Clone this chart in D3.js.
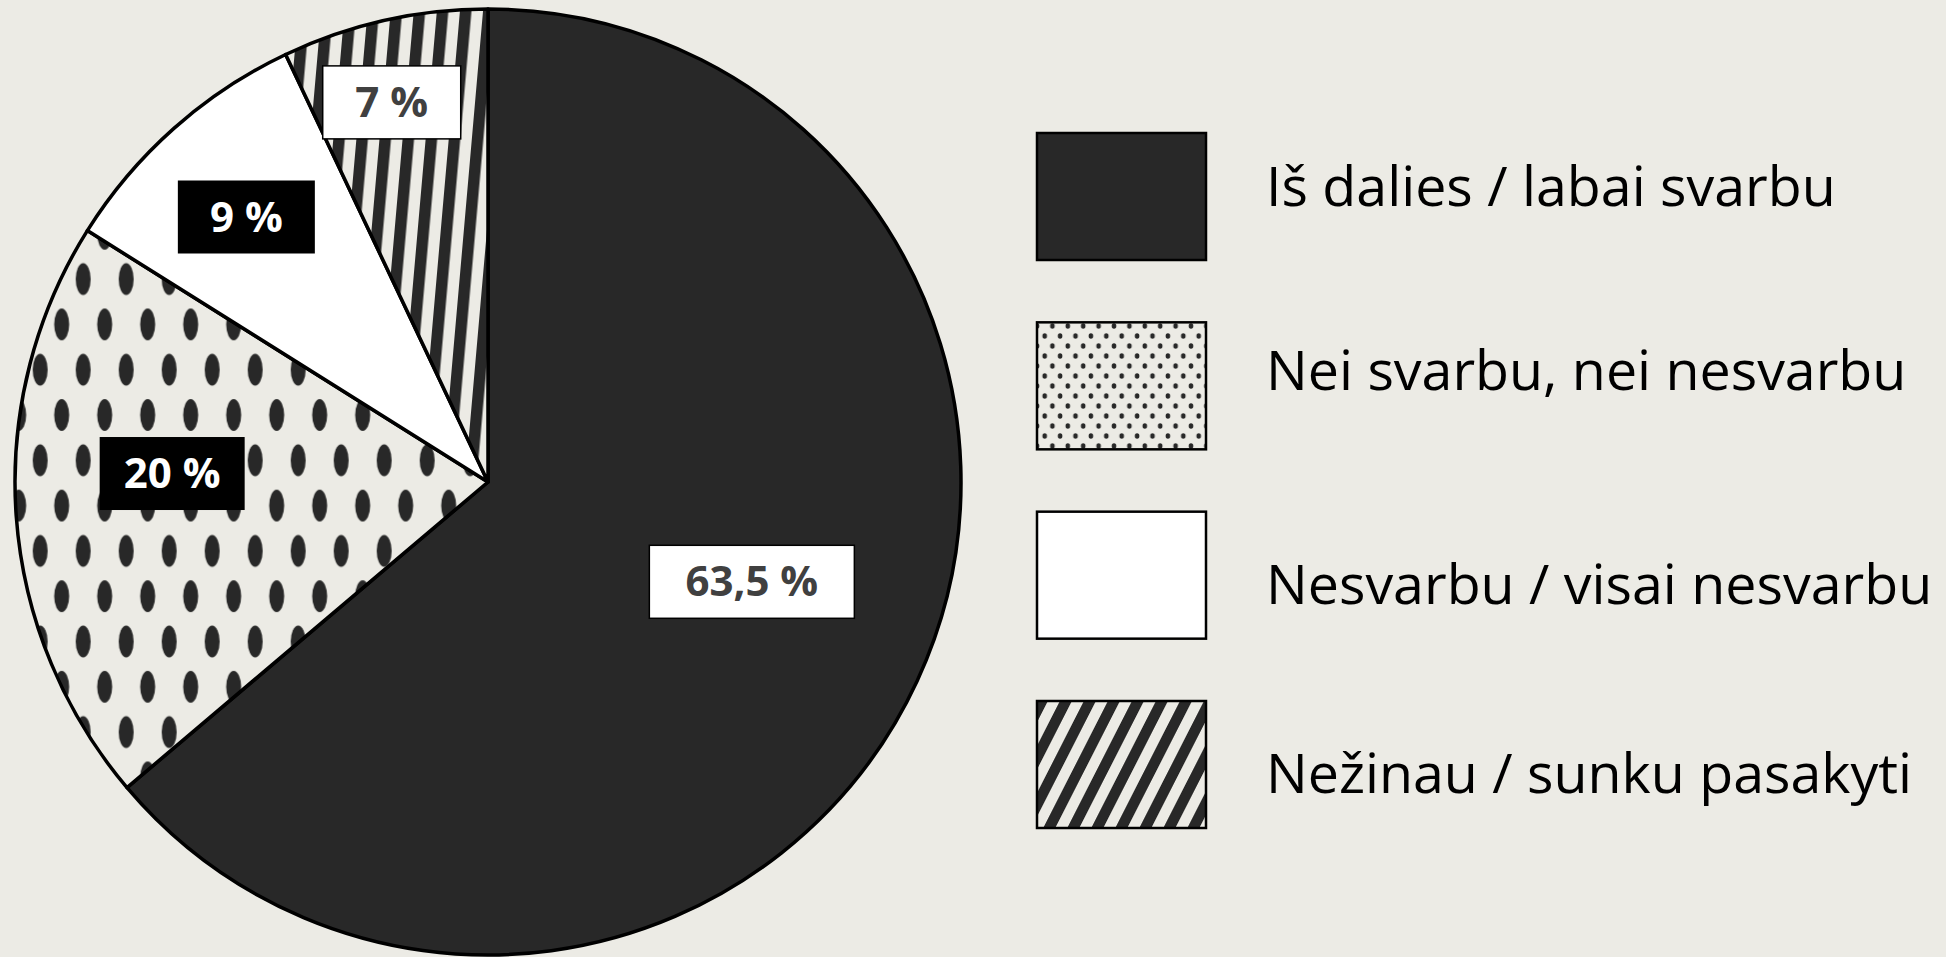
<!DOCTYPE html>
<html>
<head>
<meta charset="utf-8">
<script src="https://cdn.jsdelivr.net/npm/d3@7/dist/d3.min.js"></script>
<style>
  body { margin: 0; background: #ECEBE5; }
  svg { display: block; }
</style>
</head>
<body>
<svg id="chart"></svg>
<script>
// data
const categories = ["Iš dalies / labai svarbu", "Nei svarbu, nei nesvarbu", "Nesvarbu / visai nesvarbu", "Nežinau / sunku pasakyti"];
const values = [63.5, 20, 9, 7];
const valueLabels = ["63,5 %", "20 %", "9 %", "7 %"];

// layout
const width = 1946, height = 957;
const cx = 488, cy = 482, radius = 473;
const dark = "#282828", bg = "#ECEBE5";
const labelRadius = [0.596, 0.668, 0.759, 0.829];
const labelTurn = [-4.25, 5.7, -0.7, -1.55];   // degrees off the slice middle
const labelBoxWidth = [205, 145, 137, 138];
const labelDark = [false, true, true, false];
const legendShift = [-10, -16, 9, 9];

const svg = d3.select("#chart").attr("width", width).attr("height", height);
svg.append("rect").attr("width", width).attr("height", height).attr("fill", bg);

const defs = svg.append("defs");

// dot patterns (big one for the pie, small one for legend)
function dots(id, w, h, rx, ry, x0, y0) {
  const p = defs.append("pattern").attr("id", id)
    .attr("patternUnits", "userSpaceOnUse")
    .attr("x", x0).attr("y", y0).attr("width", w).attr("height", h);
  p.append("rect").attr("width", w).attr("height", h).attr("fill", bg);
  [[0, 0], [w, 0], [0, h], [w, h], [w / 2, h / 2]].forEach(([x, y]) => {
    p.append("ellipse").attr("cx", x).attr("cy", y).attr("rx", rx).attr("ry", ry).attr("fill", dark);
  });
}
dots("dotsPie", 43, 90.6, 7.5, 16, 46.7, 386);
dots("dotsLegend", 15.4, 20, 2.3, 2.8, 1037, 326);

// stripe patterns
function stripes(id, period, angle) {
  const p = defs.append("pattern").attr("id", id)
    .attr("patternUnits", "userSpaceOnUse")
    .attr("width", period).attr("height", 10)
    .attr("patternTransform", `rotate(${angle})`);
  p.append("rect").attr("width", period).attr("height", 10).attr("fill", bg);
  p.append("rect").attr("width", period / 2).attr("height", 10).attr("fill", dark);
}
stripes("stripesPie", 23, 5);
stripes("stripesLegend", 21.4, 27);

const pieFills = [dark, "url(#dotsPie)", "#FFFFFF", "url(#stripesPie)"];
const legendFills = [dark, "url(#dotsLegend)", "#FFFFFF", "url(#stripesLegend)"];

// pie
const pie = d3.pie().sort(null).value(d => d);
const arcs = pie(values);
const arc = d3.arc().innerRadius(0).outerRadius(radius);

const g = svg.append("g").attr("transform", `translate(${cx},${cy})`);

g.selectAll("path.slice")
  .data(arcs)
  .enter()
  .append("path")
  .attr("class", "slice")
  .attr("d", arc)
  .attr("fill", (d, i) => pieFills[i])
  .attr("stroke", "#000")
  .attr("stroke-width", 3.5)
  .attr("stroke-linejoin", "round");

// value labels in boxes
arcs.forEach((d, i) => {
  const r = radius * labelRadius[i];
  const turn = labelTurn[i] * Math.PI / 180;
  const [x, y] = d3.arc().innerRadius(r).outerRadius(r)
    .centroid({ startAngle: d.startAngle + turn, endAngle: d.endAngle + turn });
  const w = labelBoxWidth[i];
  const lg = g.append("g");
  lg.append("rect")
    .attr("x", x - w / 2).attr("y", y - 36)
    .attr("width", w).attr("height", 73)
    .attr("fill", labelDark[i] ? "#000000" : "#FFFFFF")
    .attr("stroke", labelDark[i] ? "none" : "#000")
    .attr("stroke-width", 1.5);
  lg.append("text")
    .attr("x", x).attr("y", y + 15)
    .attr("text-anchor", "middle")
    .attr("font-family", "'Open Sans', sans-serif")
    .attr("font-weight", 700)
    .attr("font-size", 42)
    .attr("fill", labelDark[i] ? "#FFFFFF" : "#404040")
    .text(valueLabels[i]);
});

// legend
const ly = d3.scaleLinear().domain([0, 3]).range([133, 701]);
const legend = svg.append("g");
categories.forEach((c, i) => {
  legend.append("rect")
    .attr("x", 1037).attr("y", ly(i))
    .attr("width", 169).attr("height", 127)
    .attr("fill", legendFills[i])
    .attr("stroke", "#000")
    .attr("stroke-width", 2.5);
  legend.append("text")
    .attr("x", 1266)
    .attr("y", ly(i) + 63.5 + legendShift[i] + 19.8)
    .attr("font-family", "'Open Sans', sans-serif")
    .attr("font-size", 55.5)
    .attr("fill", "#000")
    .text(c);
});
</script>
</body>
</html>
